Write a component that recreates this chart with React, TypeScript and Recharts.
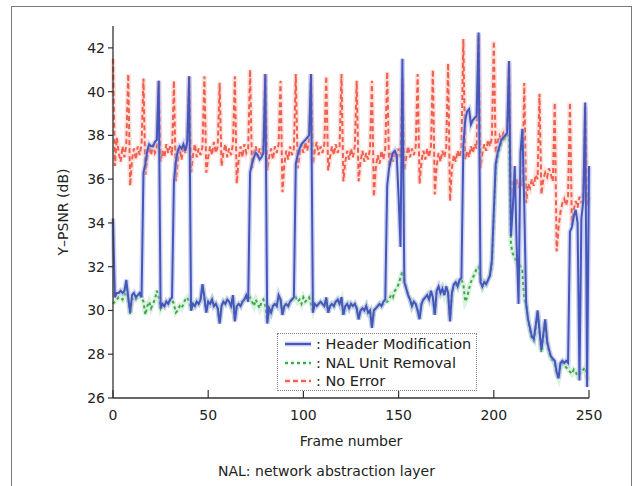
import { LineChart, Line, XAxis, YAxis } from 'recharts';

// Y-PSNR per frame (dB)
const HEADER_MOD = [
  34.2, 30.6, 30.8, 30.8, 30.9, 30.8, 30.9, 31.4,
  30.6, 29.9, 30.7, 30.8, 30.6, 30.7, 30.8, 30.6,
  36.3, 36.7, 37.3, 37.6, 37.5, 37.5, 37.7, 37.8,
  40.5, 30.1, 30.3, 30.2, 30.4, 30.3, 30.5, 30.6,
  35.9, 36.8, 37.3, 37.5, 37.4, 37.6, 37.3, 37.7,
  40.7, 30.0, 30.3, 30.2, 30.4, 30.3, 30.5, 31.2,
  30.6, 29.9, 30.4, 30.3, 30.5, 30.2, 30.3, 30.1,
  29.4, 30.2, 30.4, 30.3, 30.5, 30.4, 30.2, 30.7,
  29.5, 30.2, 30.3, 30.2, 30.4, 30.5, 30.7, 30.4,
  36.3, 36.7, 37.0, 37.2, 37.1, 36.9, 37.0, 37.2,
  40.8, 29.4, 30.1, 29.9, 30.2, 30.3, 30.2, 30.7,
  30.5, 29.8, 30.2, 30.3, 30.2, 30.4, 30.5, 30.6,
  36.7, 37.1, 37.4, 37.6, 37.7, 37.8, 37.9, 38.0,
  40.8, 29.9, 30.3, 30.2, 30.3, 30.4, 30.3, 30.2,
  30.6, 29.9, 30.2, 30.3, 30.2, 30.4, 30.5, 30.3,
  30.6, 29.8, 30.2, 30.3, 30.1, 30.3, 30.2, 30.3,
  30.1, 29.6, 30.0, 30.1, 30.0, 30.2, 29.9, 30.0,
  29.2, 30.0, 30.1, 30.2, 30.3, 30.2, 30.4, 30.5,
  35.7, 36.5, 36.9, 37.2, 37.3, 37.1, 35.2, 32.9,
  41.5, 31.3, 31.0, 30.7, 30.5, 30.2, 30.4, 30.3,
  30.0, 29.6, 30.3, 30.5, 30.6, 30.7, 30.5, 30.9,
  30.6, 29.8, 30.9, 31.1, 30.8, 31.0, 30.7, 31.1,
  30.8, 29.5, 30.8, 31.2, 31.3, 31.1, 31.4, 31.5,
  37.5, 38.7, 39.1, 39.2, 38.5, 38.7, 38.8, 38.9,
  42.7, 31.3, 31.1, 31.3, 31.2, 31.4, 31.6, 32.3,
  34.5, 36.7, 37.2, 37.5, 37.8, 37.9, 38.0, 38.1,
  41.4, 33.4, 34.7, 36.6, 33.0, 30.3, 37.2, 38.3,
  34.8, 30.3, 29.6, 29.2, 28.8, 28.7, 29.3, 30.0,
  29.1, 28.2, 28.9, 29.6, 28.6, 28.2, 27.9, 27.8,
  27.7, 27.2, 26.9, 27.6, 27.7, 27.6, 27.7, 27.6,
  33.6, 33.8, 34.3, 34.6, 34.0, 26.8, 34.2, 35.0,
  39.5, 26.5, 36.6,
];

const NAL_REMOVAL = [
  30.3, 30.4, 30.5, 30.6, 30.6, 30.5, 30.7, 31.0,
  30.5, 29.8, 30.5, 30.6, 30.5, 30.6, 30.7, 30.6,
  30.4, 29.8, 30.2, 30.4, 30.1, 30.3, 30.5, 30.9,
  30.6, 30.1, 30.3, 30.2, 30.4, 30.3, 30.5, 30.5,
  30.3, 29.9, 30.0, 30.2, 30.1, 30.3, 30.5, 30.6,
  30.4, 30.0, 30.3, 30.2, 30.4, 30.3, 30.5, 31.1,
  30.5, 29.9, 30.4, 30.3, 30.5, 30.2, 30.3, 30.1,
  29.5, 30.2, 30.4, 30.3, 30.5, 30.4, 30.2, 30.6,
  29.6, 30.2, 30.3, 30.2, 30.4, 30.5, 30.6, 30.5,
  30.6, 30.4, 30.2, 30.5, 30.3, 30.1, 30.4, 30.5,
  30.2, 29.5, 30.1, 29.9, 30.2, 30.3, 30.2, 30.6,
  30.5, 29.8, 30.2, 30.3, 30.2, 30.4, 30.5, 30.5,
  30.6, 30.4, 30.5, 30.3, 30.6, 30.4, 30.5, 30.6,
  30.3, 30.0, 30.3, 30.2, 30.3, 30.4, 30.3, 30.2,
  30.5, 29.9, 30.2, 30.3, 30.2, 30.4, 30.5, 30.3,
  30.5, 29.8, 30.2, 30.3, 30.1, 30.3, 30.2, 30.3,
  30.1, 29.6, 30.0, 30.1, 30.0, 30.2, 29.9, 30.0,
  29.3, 30.0, 30.1, 30.2, 30.3, 30.2, 30.3, 30.4,
  30.4, 30.5, 30.7, 30.6, 30.9, 31.0, 31.2, 31.5,
  31.8, 31.4, 31.0, 30.7, 30.5, 30.2, 30.4, 30.3,
  30.0, 29.6, 30.3, 30.5, 30.6, 30.7, 30.5, 30.8,
  30.6, 29.8, 30.9, 31.0, 30.8, 31.0, 30.7, 31.0,
  30.8, 29.6, 30.8, 31.1, 31.2, 31.1, 31.3, 31.4,
  31.2, 30.4, 30.6, 31.0, 31.3, 31.5, 31.7, 31.9,
  32.0, 31.5, 31.1, 31.3, 31.2, 31.4, 31.6, 32.0,
  34.2, 36.5, 37.0, 37.4, 37.7, 37.8, 37.9, 38.0,
  38.0, 33.0, 32.6, 32.4, 32.2, 32.3, 32.0, 31.8,
  30.5, 30.3, 29.5, 29.1, 28.7, 28.6, 29.2, 29.9,
  29.0, 28.1, 28.8, 29.5, 28.5, 28.1, 27.8, 27.7,
  27.6, 27.1, 26.9, 27.5, 27.6, 27.5, 27.4, 27.3,
  27.2, 27.1, 27.3, 27.2, 27.0, 27.1, 27.2, 27.3,
  27.4, 26.9, 26.8,
];

const NO_ERROR = [
  41.5, 36.6, 37.9, 37.2, 36.8, 37.5, 37.0, 37.6,
  40.8, 35.7, 36.9, 37.4, 36.9, 37.5, 37.1, 37.6,
  40.6, 36.2, 37.0, 37.5, 37.1, 37.6, 37.2, 37.4,
  40.5, 36.8, 37.3, 37.0, 37.6, 37.2, 37.5, 37.1,
  40.5, 35.9, 36.8, 37.4, 36.9, 37.5, 37.2, 37.6,
  40.7, 36.3, 37.1, 37.6, 37.0, 37.4, 37.1, 37.5,
  40.7, 36.3, 37.0, 37.5, 37.1, 37.7, 37.2, 37.5,
  40.4, 36.6, 37.2, 37.6, 37.0, 37.4, 37.1, 37.6,
  40.7, 35.8, 36.9, 37.5, 37.0, 37.6, 37.2, 37.4,
  41.0, 36.5, 37.2, 37.5, 37.0, 37.4, 37.1, 37.6,
  40.8, 36.4, 37.0, 37.4, 36.9, 37.5, 37.2, 37.6,
  40.5, 35.4, 36.7, 37.3, 36.9, 37.5, 37.1, 37.4,
  40.8, 36.5, 37.1, 37.6, 37.2, 37.7, 37.3, 37.8,
  40.8, 36.7, 37.3, 37.7, 37.1, 37.5, 37.2, 37.6,
  40.7, 36.4, 37.0, 37.5, 37.1, 37.6, 37.2, 37.5,
  40.8, 35.9, 36.8, 37.3, 36.9, 37.4, 37.0, 37.5,
  40.5, 35.9, 36.8, 37.3, 36.8, 37.2, 36.9, 37.4,
  40.5, 35.2, 36.5, 37.1, 36.7, 37.3, 36.9, 37.4,
  40.9, 36.6, 37.2, 36.8, 37.3, 36.9, 37.4, 37.0,
  40.6, 36.4, 37.0, 37.5, 37.0, 37.4, 37.1, 37.5,
  40.8, 35.8, 36.8, 37.3, 36.9, 37.4, 37.0, 37.5,
  41.0, 35.3, 36.6, 37.2, 36.8, 37.3, 37.0, 37.4,
  41.3, 35.0, 36.5, 37.1, 36.8, 37.3, 37.0, 37.4,
  42.4, 36.9, 37.3, 37.0, 37.5, 37.2, 37.6, 37.4,
  42.6, 36.5, 37.2, 37.6, 37.3, 37.8, 37.5, 37.9,
  42.3, 37.2, 37.7, 38.0, 37.8, 38.1, 37.9, 38.1,
  41.3, 35.3, 35.9, 35.5, 36.0, 35.6, 35.9, 35.7,
  40.4, 34.9, 35.8, 35.6, 36.0, 35.7, 36.2, 36.0,
  39.9, 35.3, 36.0, 36.3, 36.1, 36.5, 36.2, 35.9,
  39.5, 32.7, 33.8, 34.5, 34.9, 35.1, 34.8, 35.2,
  39.5, 33.9, 34.6, 35.0, 34.7, 35.2, 34.9, 35.4,
  39.3, 34.8, 35.2,
];

const X_TICKS = [0, 50, 100, 150, 200, 250];
const Y_TICKS = [26, 28, 30, 32, 34, 36, 38, 40, 42];

const AXIS = '#333';
const TEXT = '#222';
const BLUE = '#4656bb';
const BLUE_HALO = '#a3aee6';
const GREEN = '#3aab4c';
const GREEN_HALO = '#b3e0b8';
const RED = '#f0604f';
const RED_HALO = '#f9c0b8';

const data = HEADER_MOD.map((v, i) => ({
  frame: i,
  header: v,
  nal: NAL_REMOVAL[i],
  none: NO_ERROR[i],
}));

const legendItems = [
  { name: 'Header Modification', color: BLUE, halo: BLUE_HALO, dash: undefined },
  { name: 'NAL Unit Removal', color: GREEN, halo: GREEN_HALO, dash: '3 3' },
  { name: 'No Error', color: RED, halo: RED_HALO, dash: '5 3' },
];

function FrameTick(props: any) {
  const { x, y, payload } = props;
  return (
    <g>
      <line x1={x} x2={x} y1={y} y2={y - 8} stroke={AXIS} strokeWidth={1.2} />
      <text x={x} y={y + 12} dy="0.71em" textAnchor="middle" fontSize={14} fill={TEXT}>
        {payload.value}
      </text>
    </g>
  );
}

function YLabel(props: any) {
  const vb = props.viewBox;
  const cx = 63;
  const cy = vb.y + vb.height / 2;
  return (
    <text x={cx} y={cy} transform={`rotate(-90 ${cx} ${cy})`} textAnchor="middle" dominantBaseline="central" fontSize={14} fill={TEXT}>
      Y–PSNR (dB)
    </text>
  );
}

function XLabel(props: any) {
  const vb = props.viewBox;
  return (
    <g>
      <text x={vb.x + vb.width / 2} y={446} textAnchor="middle" fontSize={14} fill={TEXT}>
        Frame number
      </text>
      <text x={218} y={476} textAnchor="start" fontSize={14} fill={TEXT}>
        NAL: network abstraction layer
      </text>
    </g>
  );
}

function LegendBox() {
  return (
    <div
      style={{
        position: 'absolute',
        left: 277,
        top: 333,
        width: 200,
        height: 58,
        boxSizing: 'border-box',
        border: '1px dotted #888',
        background: '#fff',
        padding: '1px 0 0 7px',
      }}
    >
      {legendItems.map((it) => (
        <div key={it.name} style={{ display: 'flex', alignItems: 'center', height: 18.5 }}>
          <svg width={26} height={8} style={{ flexShrink: 0 }}>
            <line x1={0} x2={26} y1={4} y2={4} stroke={it.halo} strokeWidth={5} strokeOpacity={0.5} strokeDasharray={it.dash} />
            <line x1={0} x2={26} y1={4} y2={4} stroke={it.color} strokeWidth={2.2} strokeDasharray={it.dash} />
          </svg>
          <span style={{ fontSize: 14.5, color: TEXT, marginLeft: 5, whiteSpace: 'nowrap' }}>: {it.name}</span>
        </div>
      ))}
    </div>
  );
}

export default function App() {
  return (
    <div
      style={{
        position: 'absolute',
        left: 0,
        top: 0,
        width: 633,
        height: 486,
        overflow: 'hidden',
        background: '#fff',
        fontFamily: '"DejaVu Sans", sans-serif',
      }}
    >
      <div
        style={{
          position: 'absolute',
          left: 11,
          top: 6,
          width: 621,
          height: 520,
          boxSizing: 'border-box',
          border: '1.5px solid #7a7a7a',
        }}
      />
      <div style={{ position: 'absolute', left: 0, top: 0 }}>
        <LineChart width={633} height={486} data={data} margin={{ top: 26, right: 44, bottom: 58, left: 53 }}>
          <XAxis
            dataKey="frame"
            type="number"
            domain={[0, 250]}
            ticks={X_TICKS}
            height={30}
            tickLine={false}
            tickSize={0}
            tickMargin={0}
            tick={<FrameTick />}
            axisLine={{ stroke: AXIS, strokeWidth: 1.3 }}
            label={{ content: <XLabel /> }}
          />
          <YAxis
            type="number"
            domain={[26, 43]}
            ticks={Y_TICKS}
            width={60}
            allowDataOverflow
            tickSize={5}
            tickMargin={3}
            tick={{ fontSize: 14, fill: TEXT }}
            tickLine={{ stroke: AXIS, strokeWidth: 1.2 }}
            axisLine={{ stroke: AXIS, strokeWidth: 1.3 }}
            label={{ content: <YLabel /> }}
          />
          <Line dataKey="none" stroke={RED_HALO} strokeWidth={5} strokeOpacity={0.45} dot={false} isAnimationActive={false} />
          <Line dataKey="none" stroke={RED} strokeWidth={2} strokeDasharray="5 3" dot={false} isAnimationActive={false} />
          <Line dataKey="nal" stroke={GREEN_HALO} strokeWidth={5} strokeOpacity={0.45} dot={false} isAnimationActive={false} />
          <Line dataKey="nal" stroke={GREEN} strokeWidth={2} strokeDasharray="3 3" dot={false} isAnimationActive={false} />
          <Line dataKey="header" stroke={BLUE_HALO} strokeWidth={5} strokeOpacity={0.5} dot={false} isAnimationActive={false} />
          <Line dataKey="header" stroke={BLUE} strokeWidth={2} dot={false} isAnimationActive={false} />
        </LineChart>
      </div>
      <LegendBox />
    </div>
  );
}
